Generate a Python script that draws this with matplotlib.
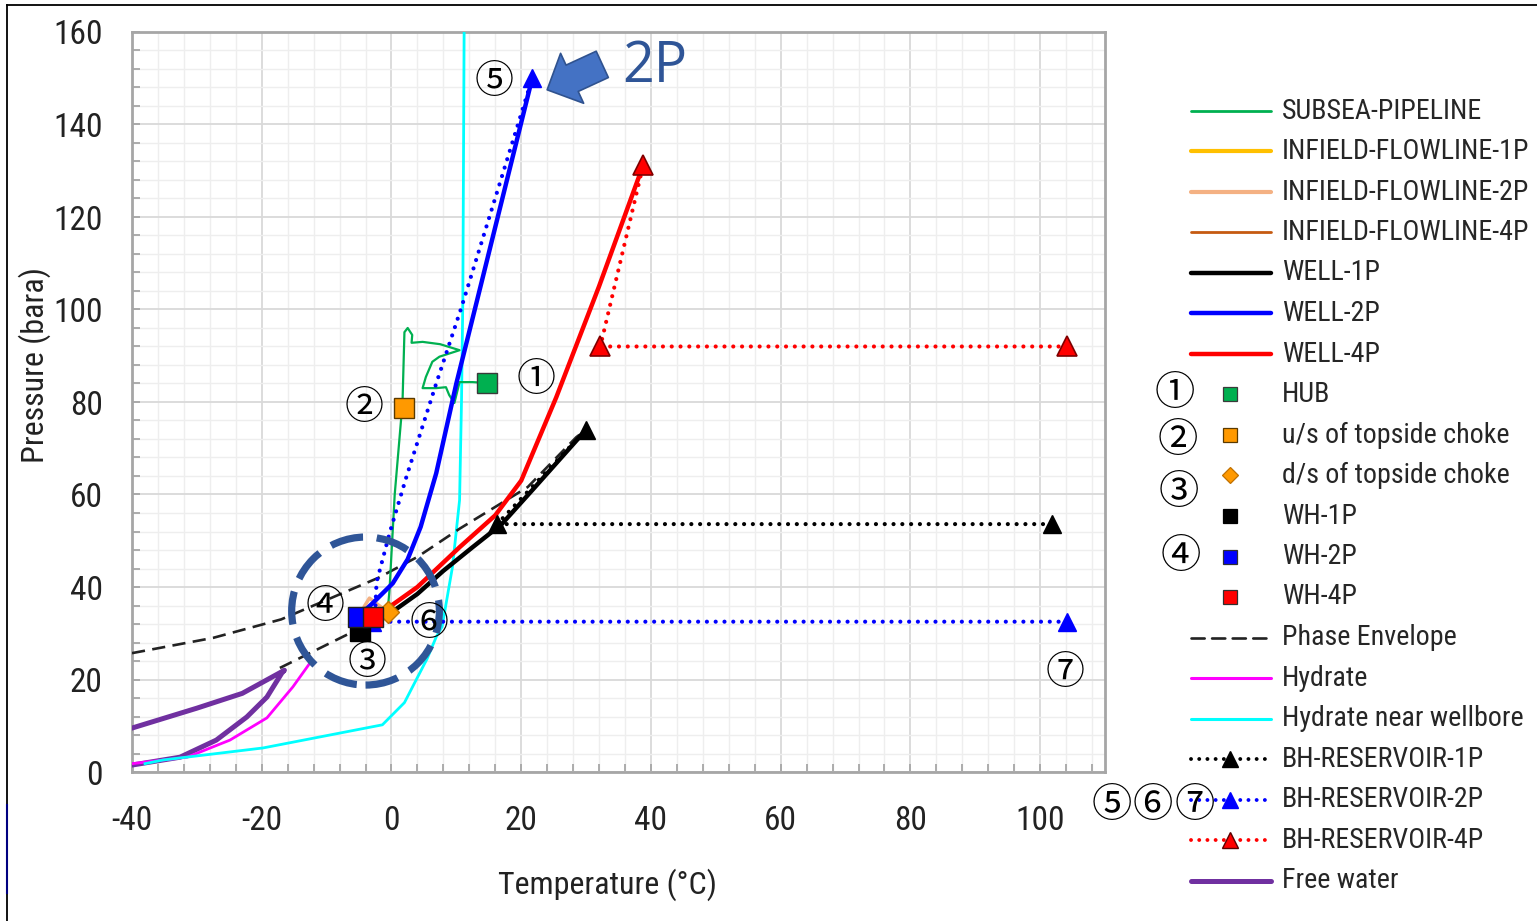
import matplotlib
matplotlib.use("Agg")
import matplotlib.pyplot as plt
from matplotlib import font_manager
from matplotlib.font_manager import FontProperties
from matplotlib.lines import Line2D
from matplotlib.patches import Ellipse
from matplotlib.ticker import MultipleLocator

# ---------------- data ----------------
subsea_T = [-0.6, -0.3, 0.5, 1.7, 2.0, 2.5, 3.2, 3.1, 4.8, 7.5, 10.5, 7.4, 6.3, 5.3, 4.8, 6.9, 8.4, 8.9, 9.7, 10.5, 12.5, 14.8]
subsea_P = [34.6, 39.4, 60.0, 79.8, 95.1, 96.0, 94.5, 92.8, 93.0, 92.5, 91.2, 89.8, 88.7, 85.4, 83.0, 83.0, 83.2, 81.5, 79.8, 84.3, 84.3, 84.1]

inf1p_T = [-4.9, -0.6]
inf1p_P = [30.5, 34.6]
inf2p_T = [-5.2, -3.4, -0.6]
inf2p_P = [33.5, 37.6, 34.6]
inf4p_T = [-2.9, -0.6]
inf4p_P = [33.5, 34.6]

well1p_T = [-4.9, -2.0, 0.0, 4.0, 8.0, 12.5, 17.0, 22.0, 26.0, 30.0]
well1p_P = [30.5, 32.5, 34.5, 38.5, 43.5, 48.6, 53.6, 61.4, 67.7, 74.0]
well2p_T = [-5.2, -2.9, 0.2, 2.5, 4.5, 6.9, 10.0, 13.2, 15.5, 21.7]
well2p_P = [33.5, 36.5, 40.8, 46.0, 53.0, 64.6, 84.0, 102.0, 115.0, 150.0]
well4p_T = [-2.9, -0.3, 4.0, 10.5, 16.0, 20.0, 25.4, 32.0, 38.8]
well4p_P = [33.5, 35.7, 40.0, 48.6, 55.5, 63.0, 81.0, 105.0, 131.2]

hub_T, hub_P = [14.8], [84.1]
us_T, us_P = [2.0], [78.7]
ds_T, ds_P = [-0.6], [34.6]
wh1p_T, wh1p_P = [-4.9], [30.5]
wh2p_T, wh2p_P = [-5.2], [33.5]
wh4p_T, wh4p_P = [-2.9], [33.5]

phase_up_T = [-40, -27.5, -17, -2, 4, 10.5, 21, 28.5, 30]
phase_up_P = [25.7, 29.0, 33.0, 42.0, 46.5, 52.6, 61.6, 72.4, 74.0]
phase_lo_T = [-17.2, -5.4, -3.5]
phase_lo_P = [22.5, 30.7, 32.0]

hydrate_T = [-40, -31.5, -24.9, -19.2, -15.2, -12.6]
hydrate_P = [1.8, 3.2, 6.9, 11.7, 18.4, 23.5]

hyd_wb_T = [-38, -35.2, -19.8, -1.4, 2.0, 3.8, 5.5, 6.9, 7.8, 9.4, 10.5, 10.8, 11.0, 11.2]
hyd_wb_P = [1.8, 2.6, 5.2, 10.2, 15.0, 19.9, 24.5, 29.2, 31.4, 44.3, 58.8, 80.4, 102.0, 160.0]

bh1p_T = [101.8, 16.3, 30.0]
bh1p_P = [53.6, 53.6, 74.0]
bh2p_T = [104.2, -3.0, -2.5, -2.3, -0.3, 2.3, 6.9, 10.8, 21.7]
bh2p_P = [32.5, 32.5, 35.0, 41.0, 51.6, 63.8, 84.0, 100.5, 150.0]
bh4p_T = [104.2, 32.2, 38.8]
bh4p_P = [92.0, 92.0, 131.2]

freewater_T = [-40, -32.6, -27, -22.3, -19.2, -16.9, -16.5, -23, -30, -40]
freewater_P = [1.5, 3.2, 6.9, 11.9, 16.2, 21.4, 22.0, 17.0, 13.8, 9.5]

x_ticks = [-40, -20, 0, 20, 40, 60, 80, 100]
y_ticks = [0, 20, 40, 60, 80, 100, 120, 140, 160]

legend_labels = ["SUBSEA-PIPELINE", "INFIELD-FLOWLINE-1P", "INFIELD-FLOWLINE-2P", "INFIELD-FLOWLINE-4P",
                 "WELL-1P", "WELL-2P", "WELL-4P", "HUB", "u/s of topside choke", "d/s of topside choke",
                 "WH-1P", "WH-2P", "WH-4P", "Phase Envelope", "Hydrate", "Hydrate near wellbore",
                 "BH-RESERVOIR-1P", "BH-RESERVOIR-2P", "BH-RESERVOIR-4P", "Free water"]

# ---------------- fonts ----------------
def find_narrow():
    fl = font_manager.fontManager.ttflist
    prefs = [("Liberation Sans Narrow", None), ("Arial Narrow", None), ("Roboto Condensed", None),
             ("Open Sans Condensed", None), ("Noto Sans", "condensed")]
    for name, stretch in prefs:
        for f in fl:
            if f.name == name and f.style == "normal" and f.weight in (400, "normal", "regular") \
                    and (stretch is None or f.stretch == stretch):
                return FontProperties(fname=f.fname)
    for f in fl:
        low = f.fname.lower()
        if ("narrow" in low or "condensed" in low) and "bold" not in low and "italic" not in low \
                and "oblique" not in low and "light" not in low and "mono" not in low \
                and "serif" not in low.replace("sans", ""):
            return FontProperties(fname=f.fname)
    return FontProperties(family="Liberation Sans")

NARROW = find_narrow()
CJK = ["Noto Sans CJK JP", "DejaVu Sans"]

def fp(size):
    p = NARROW.copy()
    p.set_size(size)
    return p

W, H = 1537, 921
fig = plt.figure(figsize=(W / 100, H / 100), dpi=100)
fig.patch.set_facecolor("white")

def fx(x):
    return x / W

def fy(y):
    return 1 - y / H

ax = fig.add_axes([fx(132), fy(772), (1105 - 132) / W, (772 - 32) / H])
ax.set_xlim(-40, 110)
ax.set_ylim(0, 160)
ax.xaxis.set_minor_locator(MultipleLocator(4))
ax.yaxis.set_minor_locator(MultipleLocator(4))
ax.set_xticks(x_ticks)
ax.set_yticks(y_ticks)
ax.set_xticklabels([str(v) for v in x_ticks])
ax.set_yticklabels([str(v) for v in y_ticks])
ax.grid(which="major", color="#D9D9D9", lw=1.3, zorder=0)
ax.grid(which="minor", color="#EEEEEE", lw=1.0, zorder=0)
ax.set_axisbelow(True)
for s in ax.spines.values():
    s.set_color("#A6A6A6")
    s.set_linewidth(2.0)
ax.tick_params(which="both", direction="in", color="#A6A6A6", width=1.3, length=6)
ax.tick_params(axis="x", which="major", pad=24, labelcolor="#222222")
ax.tick_params(axis="y", which="major", pad=21, labelcolor="#222222")
for lab in ax.get_xticklabels() + ax.get_yticklabels():
    lab.set_fontproperties(fp(24))

fig.text(fx(608), fy(885), "Temperature (°C)", ha="center", va="center",
         fontproperties=fp(23), color="#222222")
fig.text(fx(35), fy(365), "Pressure (bara)", ha="center", va="center", rotation=90,
         fontproperties=fp(23), color="#222222")

# styles
C_GREEN = "#00B050"
C_ORANGE = "#FF9900"
C_INF1 = "#FFC000"
C_INF2 = "#F4B183"
C_INF4 = "#C55A11"
C_PURPLE = "#7030A0"
dot = (0, (0.01, 2.1))
dash = (0, (5, 2.8))

ax.plot(freewater_T, freewater_P, color=C_PURPLE, lw=3.6, zorder=3, solid_joinstyle="round")
ax.plot(hydrate_T, hydrate_P, color="#FF00FF", lw=2.0, zorder=3)
ax.plot(hyd_wb_T, hyd_wb_P, color="#00FFFF", lw=2.0, zorder=3)
ax.plot(phase_up_T, phase_up_P, color="#222222", lw=1.9, ls=dash, zorder=4)
ax.plot(phase_lo_T, phase_lo_P, color="#222222", lw=1.9, ls=dash, zorder=4)
ax.plot(subsea_T, subsea_P, color=C_GREEN, lw=1.6, zorder=4)
ax.plot(inf1p_T, inf1p_P, color=C_INF1, lw=2.5, zorder=4)
ax.plot(inf2p_T, inf2p_P, color=C_INF2, lw=2.5, zorder=4)
ax.plot(inf4p_T, inf4p_P, color=C_INF4, lw=2.0, zorder=4)
ax.plot(bh2p_T, bh2p_P, color="#0000FF", lw=3.0, ls=dot, dash_capstyle="round", zorder=5,
        marker="^", markevery=[0, 1, len(bh2p_T) - 1], ms=13, mfc="#0000FF", mec="#0000FF")
ax.plot(well1p_T, well1p_P, color="black", lw=3.2, zorder=5)
ax.plot(well2p_T, well2p_P, color="#0000FF", lw=3.2, zorder=5)
ax.plot(well4p_T, well4p_P, color="#FF0000", lw=3.2, zorder=6)
ax.plot(bh1p_T, bh1p_P, color="black", lw=3.0, ls=dot, dash_capstyle="round", zorder=6,
        marker="^", ms=13, mfc="black", mec="black")
ax.plot(bh4p_T, bh4p_P, color="#FF0000", lw=3.0, ls=dot, dash_capstyle="round", zorder=6,
        marker="^", ms=14, mfc="#FF0000", mec="#7F0000", mew=1.2)

ax.plot(hub_T, hub_P, ls="none", marker="s", ms=14, mfc=C_GREEN, mec="#3A3A3A", mew=1.0, zorder=8)
ax.plot(us_T, us_P, ls="none", marker="s", ms=14, mfc=C_ORANGE, mec="#5A3A00", mew=1.0, zorder=8)
ax.plot(wh1p_T, wh1p_P, ls="none", marker="s", ms=14, mfc="black", mec="black", zorder=8)
ax.plot(wh2p_T, wh2p_P, ls="none", marker="s", ms=14, mfc="#0000FF", mec="#202020", mew=1.0, zorder=9)
ax.plot(wh4p_T, wh4p_P, ls="none", marker="s", ms=14, mfc="#FF0000", mec="#202020", mew=1.0, zorder=10)
ax.plot(ds_T, ds_P, ls="none", marker="D", ms=11, mfc=C_ORANGE, mec="#C07000", mew=1.0, zorder=9)

# dashed highlight circle around well heads
ax.add_patch(Ellipse((-4.0, 34.8), 148 / 6.5, 148 / 4.625, fill=False, ec="#2F5597", lw=5.2,
                     ls=(0, (4.6, 1.9)), zorder=12))

# numbered annotations
circ_labels = [("①", 22.3, 84.8), ("②", -4.2, 78.7), ("③", -3.8, 23.6), ("④", -10.3, 35.7),
               ("⑤", 15.8, 149.2), ("⑥", 5.8, 32.0), ("⑦", 103.8, 21.4)]
for s, x, y in circ_labels:
    ax.text(x, y, s, ha="center", va="center", fontsize=28, family=CJK, color="black", zorder=13)

# 2P arrow and label
ax.annotate("", xy=(24.0, 147.5), xytext=(32.5, 153.0),
            arrowprops=dict(arrowstyle="simple,head_length=0.55,head_width=1.1,tail_width=0.58",
                            fc="#4472C4", ec="#2F528F", lw=1.2, shrinkA=0, shrinkB=0,
                            mutation_scale=36), zorder=13)
fig.text(fx(655), fy(68), "2P", ha="center", va="center", fontsize=40, family="Open Sans",
         color="#2F5597")

# ---------------- manual legend ----------------
leg_styles = [
    dict(color=C_GREEN, lw=2.0), dict(color=C_INF1, lw=3.0), dict(color=C_INF2, lw=3.0),
    dict(color=C_INF4, lw=2.0), dict(color="black", lw=3.2), dict(color="#0000FF", lw=3.2),
    dict(color="#FF0000", lw=3.2),
    dict(marker="s", mfc=C_GREEN, mec="#3A3A3A"), dict(marker="s", mfc=C_ORANGE, mec="#5A3A00"),
    dict(marker="D", mfc=C_ORANGE, mec="#C07000", ms=8),
    dict(marker="s", mfc="black", mec="black"), dict(marker="s", mfc="#0000FF", mec="#303030"),
    dict(marker="s", mfc="#FF0000", mec="#303030"),
    dict(color="#222222", lw=1.9, ls=dash), dict(color="#FF00FF", lw=2.2), dict(color="#00FFFF", lw=2.2),
    dict(color="black", lw=2.8, ls=dot, tri="black"), dict(color="#0000FF", lw=2.8, ls=dot, tri="#0000FF"),
    dict(color="#FF0000", lw=2.8, ls=dot, tri="#FF0000"), dict(color=C_PURPLE, lw=3.6),
]

# choose legend font size so that the longest label ends inside the figure edge
renderer = fig.canvas.get_renderer()
probe = fig.text(0, 0, max(legend_labels, key=len), fontproperties=fp(23))
wpx = probe.get_window_extent(renderer).width
probe.remove()
leg_size = min(23.0, 23.0 * (1524 - 1282) / wpx)

row0, dy = 111, 40.5
for i, (lab, st) in enumerate(zip(legend_labels, leg_styles)):
    y = row0 + i * dy
    st = dict(st)
    if "marker" in st and "color" not in st:
        ms = st.pop("ms", 10)
        fig.add_artist(Line2D([fx(1230)], [fy(y)], transform=fig.transFigure, ls="none",
                              marker=st["marker"], ms=ms, mfc=st["mfc"], mec=st["mec"], mew=0.9))
    else:
        tri = st.pop("tri", None)
        fig.add_artist(Line2D([fx(1191), fx(1271)], [fy(y), fy(y)], transform=fig.transFigure,
                              color=st["color"], lw=st["lw"], ls=st.get("ls", "-"),
                              dash_capstyle="round", solid_capstyle="round"))
        if tri:
            fig.add_artist(Line2D([fx(1230)], [fy(y)], transform=fig.transFigure, ls="none",
                                  marker="^", ms=12, mfc=tri, mec="#5A0000" if tri == "#FF0000" else tri))
    fig.text(fx(1282), fy(y), lab, ha="left", va="center", fontproperties=fp(leg_size),
             color="#262626")

leg_circ = [("①", 1175, 393), ("②", 1178, 440), ("③", 1179, 492), ("④", 1181, 556),
            ("⑤", 1112, 806), ("⑥", 1153, 806), ("⑦", 1195, 806)]
for s, x, y in leg_circ:
    fig.text(fx(x), fy(y), s, ha="center", va="center", fontsize=29, family=CJK, color="black")

# figure border (left and top visible)
fig.add_artist(Line2D([fx(7), fx(7)], [fy(5), 0], transform=fig.transFigure, color="black", lw=1.3))
fig.add_artist(Line2D([fx(7), 1], [fy(5), fy(5)], transform=fig.transFigure, color="black", lw=1.3))
fig.add_artist(Line2D([fx(7), fx(7)], [fy(805), fy(893)], transform=fig.transFigure, color="#000080", lw=1.5))

fig.savefig("out.png", dpi=100, facecolor="white")
